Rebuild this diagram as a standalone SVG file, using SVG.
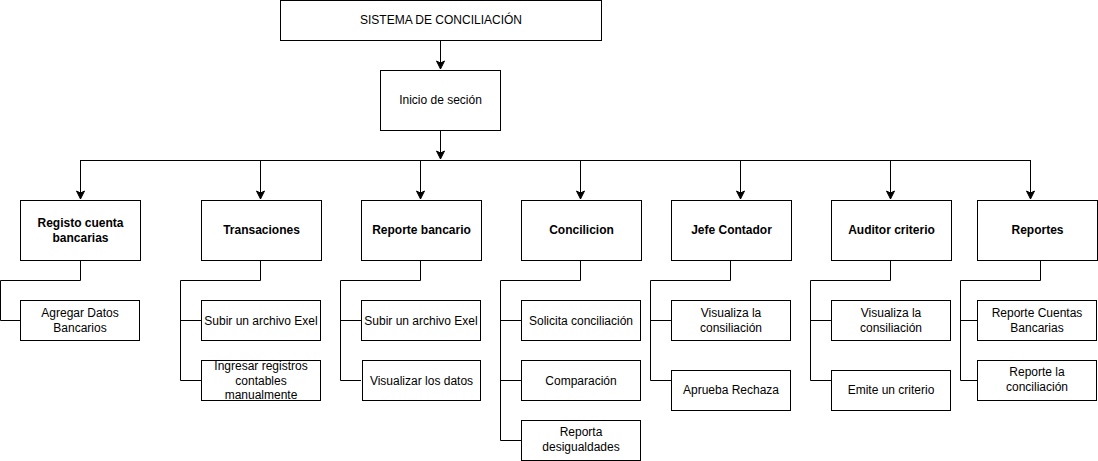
<svg xmlns="http://www.w3.org/2000/svg" width="1098" height="461" viewBox="0 0 1098 461">
<style>
rect{fill:#fff;stroke:#000;stroke-width:1}
text{font-family:"Liberation Sans",Arial,sans-serif;font-size:12px;fill:#000;text-anchor:middle}
.b{font-weight:bold}
.c{fill:none;stroke:#000;stroke-width:1}
</style>
<defs>
<marker id="ar" markerUnits="userSpaceOnUse" markerWidth="10" markerHeight="10" viewBox="0 0 10 10" refX="9" refY="5" orient="auto">
<path d="M1,1 L9,5 L1,9 L3,5 Z" fill="#000" stroke="#000" stroke-width="1"/>
</marker>
</defs>
<rect width="1098" height="461" style="fill:#fff;stroke:none"/>
<g id="connectors">
<path class="c" d="M440.5,40 V69" marker-end="url(#ar)"/>
<path class="c" d="M440.5,130 V159" marker-end="url(#ar)"/>
<path class="c" d="M80.5,160.5 H1030.5"/>
<path class="c" d="M80.5,160 V199" marker-end="url(#ar)"/>
<path class="c" d="M260.5,160 V199" marker-end="url(#ar)"/>
<path class="c" d="M420.5,160 V199" marker-end="url(#ar)"/>
<path class="c" d="M580.5,160 V199" marker-end="url(#ar)"/>
<path class="c" d="M740.5,160 V199" marker-end="url(#ar)"/>
<path class="c" d="M890.5,160 V199" marker-end="url(#ar)"/>
<path class="c" d="M1030.5,160 V199" marker-end="url(#ar)"/>
<path class="c" d="M80.5,260 V280.5 H0.5 V320.5 H20"/>
<path class="c" d="M260.5,260 V280.5 H180.5 V380.5 H201 M180.5,320.5 H201"/>
<path class="c" d="M420.5,260 V280.5 H340.5 V380.5 H361 M340.5,320.5 H361"/>
<path class="c" d="M580.5,260 V280.5 H500.5 V440.5 H521 M500.5,320.5 H521 M500.5,380.5 H521"/>
<path class="c" d="M730.5,260 V280.5 H650.5 V380.5 H671 M650.5,320.5 H671"/>
<path class="c" d="M890.5,260 V280.5 H810.5 V380.5 H831 M810.5,320.5 H831"/>
<path class="c" d="M1040.5,260 V280.5 H960.5 V380.5 H977 M960.5,320.5 H977"/>
</g>
<g id="n-sistema"><rect x="280.5" y="0.5" width="321" height="40"/><text x="441" y="24">SISTEMA DE CONCILIACIÓN</text></g>
<g id="n-inicio"><rect x="380.5" y="70.5" width="120" height="60"/><text x="440.5" y="104">Inicio de seción</text></g>
<g id="n-registo"><rect x="20.5" y="200.5" width="120" height="60"/><text class="b" x="80.5" y="227">Registo cuenta</text><text class="b" x="80.5" y="241.5">bancarias</text></g>
<g id="n-transaciones"><rect x="201.5" y="200.5" width="120" height="60"/><text class="b" x="261.5" y="234">Transaciones</text></g>
<g id="n-reporte-bancario"><rect x="361.5" y="200.5" width="120" height="60"/><text class="b" x="421.5" y="234">Reporte bancario</text></g>
<g id="n-concilicion"><rect x="521.5" y="200.5" width="120" height="60"/><text class="b" x="581.5" y="234">Concilicion</text></g>
<g id="n-jefe"><rect x="671.5" y="200.5" width="120" height="60"/><text class="b" x="731.5" y="234">Jefe Contador</text></g>
<g id="n-auditor"><rect x="831.5" y="200.5" width="120" height="60"/><text class="b" x="891.5" y="234">Auditor criterio</text></g>
<g id="n-reportes"><rect x="977.5" y="200.5" width="120" height="60"/><text class="b" x="1037.5" y="234">Reportes</text></g>
<g id="n-agregar"><rect x="20.5" y="300.5" width="119" height="40"/><text x="80" y="317">Agregar Datos</text><text x="80" y="331.5">Bancarios</text></g>
<g id="n-subir1"><rect x="201.5" y="300.5" width="119" height="40"/><text x="261" y="324.5">Subir un archivo Exel</text></g>
<g id="n-ingresar"><rect x="201.5" y="360.5" width="119" height="40"/><text x="261" y="370">Ingresar registros</text><text x="261" y="384.5">contables</text><text x="261" y="399">manualmente</text></g>
<g id="n-subir2"><rect x="361.5" y="300.5" width="119" height="40"/><text x="421" y="324.5">Subir un archivo Exel</text></g>
<g id="n-visualizar"><rect x="362.5" y="360.5" width="118" height="40"/><text x="421.5" y="384.5">Visualizar los datos</text></g>
<g id="n-solicita"><rect x="521.5" y="300.5" width="119" height="40"/><text x="581" y="324.5">Solicita conciliación</text></g>
<g id="n-comparacion"><rect x="521.5" y="360.5" width="119" height="40"/><text x="581" y="384.5">Comparación</text></g>
<g id="n-reporta"><rect x="521.5" y="420.5" width="119" height="40"/><text x="581" y="436">Reporta</text><text x="581" y="450.5">desigualdades</text></g>
<g id="n-visualiza1"><rect x="671.5" y="300.5" width="119" height="40"/><text x="731" y="317">Visualiza la</text><text x="731" y="331.5">consiliación</text></g>
<g id="n-aprueba"><rect x="671.5" y="370.5" width="119" height="40"/><text x="731" y="394">Aprueba Rechaza</text></g>
<g id="n-visualiza2"><rect x="831.5" y="300.5" width="119" height="40"/><text x="891" y="317">Visualiza la</text><text x="891" y="331.5">consiliación</text></g>
<g id="n-emite"><rect x="831.5" y="370.5" width="119" height="40"/><text x="891" y="394">Emite un criterio</text></g>
<g id="n-reporte-cuentas"><rect x="977.5" y="300.5" width="119" height="40"/><text x="1037" y="317">Reporte Cuentas</text><text x="1037" y="331.5">Bancarias</text></g>
<g id="n-reporte-la"><rect x="977.5" y="360.5" width="119" height="40"/><text x="1037" y="376">Reporte la</text><text x="1037" y="390.5">conciliación</text></g>
</svg>
